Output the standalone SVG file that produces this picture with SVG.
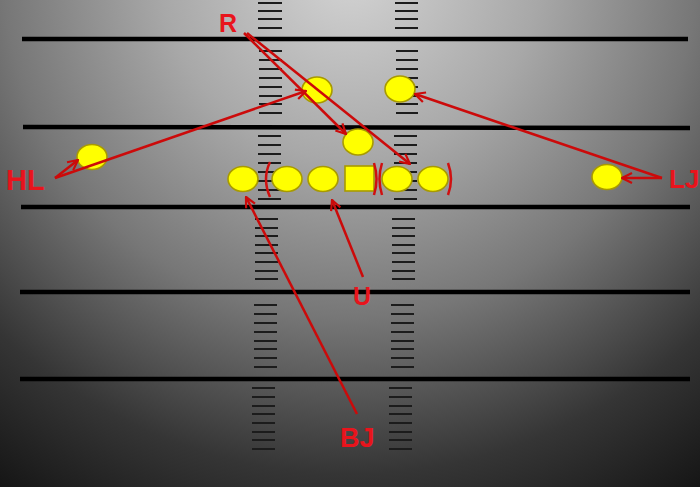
<svg xmlns="http://www.w3.org/2000/svg" width="700" height="487" viewBox="0 0 700 487">
<defs>
<radialGradient id="bg" gradientUnits="userSpaceOnUse" cx="350" cy="-30" r="630">
<stop offset="0" stop-color="#d4d4d4"/>
<stop offset="0.3" stop-color="#a8a8a8"/>
<stop offset="0.55" stop-color="#777777"/>
<stop offset="0.8" stop-color="#353535"/>
<stop offset="1" stop-color="#141414"/>
</radialGradient>
<marker id="ah" viewBox="0 0 12 12" refX="11" refY="6" markerWidth="12" markerHeight="12" markerUnits="userSpaceOnUse" orient="auto">
<path d="M1,1 L11,6 L1,11" fill="none" stroke="#cc0a0a" stroke-width="2.2"/>
</marker>
</defs>
<style>
.yl{stroke:#000;stroke-width:4.5}
.hm{stroke:#1c1c1c;stroke-width:2.2;fill:none}
.pl{fill:#ffff00;stroke:#a89a00;stroke-width:1.6}
.br{fill:none;stroke:#d01010;stroke-width:2.5}
.ar{fill:none;stroke:#cc0a0a;stroke-width:2.5;marker-end:url(#ah)}
.lb{font-family:"Liberation Sans",Arial,sans-serif;font-weight:bold;fill:#e8141c}
</style>
<rect width="700" height="487" fill="url(#bg)"/>
<g id="field">
<line class="yl" x1="22" y1="39" x2="688" y2="39"/>
<line class="yl" x1="23" y1="127" x2="690" y2="128"/>
<line class="yl" x1="21" y1="207" x2="690" y2="207"/>
<line class="yl" x1="20" y1="292" x2="690" y2="292"/>
<line class="yl" x1="20" y1="379" x2="690" y2="379"/>
</g>
<g id="hash-left">
<path class="hm" d="M258,3h24M258,11h24M258,19h24M258,28h24"/>
<path class="hm" d="M259,51h23M259,60h23M259,69h23M259,78h23M259,87h23M259,96h23M259,104h23M259,113h23"/>
<path class="hm" d="M258,136h23M258,145h23M258,154h23M258,163h23M258,172h23M258,181h23M258,190h23M258,199h23"/>
<path class="hm" d="M255,219h23M255,228h23M255,236h23M255,245h23M255,253h23M255,262h23M255,271h23M255,279h23"/>
<path class="hm" d="M254,305h23M254,314h23M254,323h23M254,332h23M254,341h23M254,349h23M254,358h23M254,367h23"/>
<path class="hm" d="M252,388h23M252,397h23M252,406h23M252,414h23M252,423h23M252,432h23M252,440h23M252,449h23"/>
</g>
<g id="hash-right">
<path class="hm" d="M395,3h23M395,11h23M395,19h23M395,28h23"/>
<path class="hm" d="M396,51h22M396,60h22M396,69h22M396,78h22M396,87h22M396,96h22M396,104h22M396,113h22"/>
<path class="hm" d="M394,136h23M394,145h23M394,154h23M394,163h23M394,172h23M394,181h23M394,190h23M394,199h23"/>
<path class="hm" d="M392,219h23M392,228h23M392,236h23M392,245h23M392,253h23M392,262h23M392,271h23M392,279h23"/>
<path class="hm" d="M391,305h23M391,314h23M391,323h23M391,332h23M391,341h23M391,349h23M391,358h23M391,367h23"/>
<path class="hm" d="M389,388h23M389,397h23M389,406h23M389,414h23M389,423h23M389,432h23M389,440h23M389,449h23"/>
</g>
<g id="player-r"><ellipse class="pl" cx="317" cy="90" rx="15" ry="13"/></g>
<g id="player-lj-deep"><ellipse class="pl" cx="400" cy="89" rx="15" ry="13"/></g>
<g id="player-back"><ellipse class="pl" cx="358" cy="142" rx="15" ry="13"/></g>
<g id="player-hl"><ellipse class="pl" cx="92" cy="157" rx="15" ry="12.5"/></g>
<g id="player-lj"><ellipse class="pl" cx="607" cy="177" rx="15" ry="12.5"/></g>
<g id="line-of-scrimmage">
<ellipse class="pl" cx="243" cy="179" rx="15" ry="12.5"/>
<ellipse class="pl" cx="287" cy="179" rx="15" ry="12.5"/>
<ellipse class="pl" cx="323" cy="179" rx="15" ry="12.5"/>
<rect class="pl" x="345" y="166" width="29" height="25"/>
<ellipse class="pl" cx="397" cy="179" rx="15" ry="12.5"/>
<ellipse class="pl" cx="433" cy="179" rx="15" ry="12.5"/>
<path class="br" d="M270,162 Q262,179 270,197"/>
<path class="br" d="M374,163 Q379,179 374,195"/>
<path class="br" d="M382,163 Q377,179 382,195"/>
<path class="br" d="M448,163 Q454,179 448,195"/>
</g>
<g id="connectors">
<line class="ar" x1="244" y1="33" x2="346" y2="134"/>
<line class="ar" x1="247" y1="33" x2="410" y2="164"/>
<line class="ar" x1="55" y1="178" x2="306" y2="91"/>
<line class="ar" x1="55" y1="178" x2="78" y2="160"/>
<line class="ar" x1="662" y1="178" x2="622" y2="178"/>
<line class="ar" x1="662" y1="178" x2="415" y2="94"/>
<line class="ar" x1="363" y1="277" x2="332" y2="200"/>
<line class="ar" x1="357" y1="414" x2="246" y2="197"/>
</g>
<g id="labels">
<text class="lb" x="219" y="32" font-size="25">R</text>
<text class="lb" x="6" y="190" font-size="29">HL</text>
<text class="lb" x="669" y="188" font-size="26">LJ</text>
<text class="lb" x="353" y="305" font-size="25">U</text>
<text class="lb" x="340" y="447" font-size="27">BJ</text>
</g>
</svg>
